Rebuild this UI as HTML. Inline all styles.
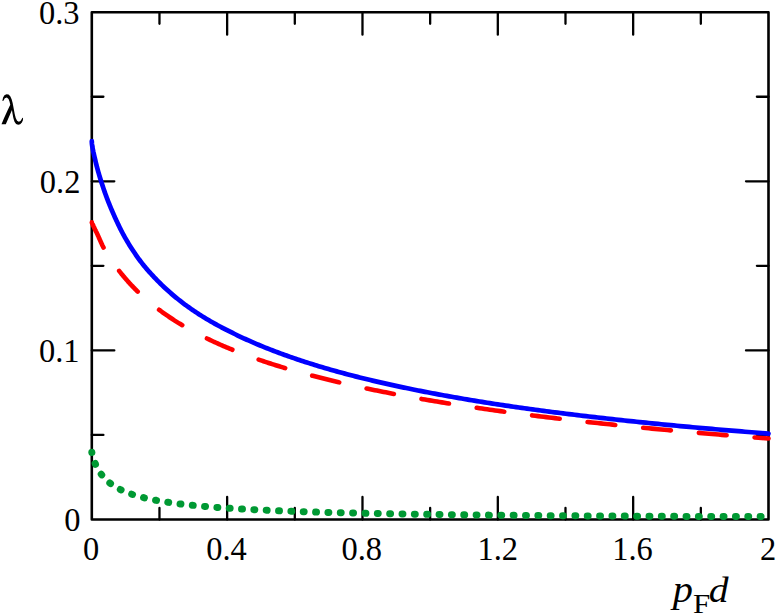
<!DOCTYPE html>
<html><head><meta charset="utf-8"><title>chart</title>
<style>
html,body{margin:0;padding:0;background:#fff;}
body{width:777px;height:614px;overflow:hidden;}
svg{display:block;}
text{font-family:"Liberation Serif",serif;fill:#000;}
</style></head>
<body>
<svg width="777" height="614" viewBox="0 0 777 614">
<rect x="0" y="0" width="777" height="614" fill="#ffffff"/>
<g stroke="#000" stroke-width="2.3" stroke-linecap="round" fill="none">
<line x1="159.47" y1="519.5" x2="159.47" y2="507.90"/>
<line x1="159.47" y1="12.2" x2="159.47" y2="23.80"/>
<line x1="227.14" y1="519.5" x2="227.14" y2="497.00"/>
<line x1="227.14" y1="12.2" x2="227.14" y2="34.70"/>
<line x1="294.81" y1="519.5" x2="294.81" y2="507.90"/>
<line x1="294.81" y1="12.2" x2="294.81" y2="23.80"/>
<line x1="362.48" y1="519.5" x2="362.48" y2="497.00"/>
<line x1="362.48" y1="12.2" x2="362.48" y2="34.70"/>
<line x1="430.15" y1="519.5" x2="430.15" y2="507.90"/>
<line x1="430.15" y1="12.2" x2="430.15" y2="23.80"/>
<line x1="497.82" y1="519.5" x2="497.82" y2="497.00"/>
<line x1="497.82" y1="12.2" x2="497.82" y2="34.70"/>
<line x1="565.49" y1="519.5" x2="565.49" y2="507.90"/>
<line x1="565.49" y1="12.2" x2="565.49" y2="23.80"/>
<line x1="633.16" y1="519.5" x2="633.16" y2="497.00"/>
<line x1="633.16" y1="12.2" x2="633.16" y2="34.70"/>
<line x1="700.83" y1="519.5" x2="700.83" y2="507.90"/>
<line x1="700.83" y1="12.2" x2="700.83" y2="23.80"/>
<line x1="91.8" y1="434.95" x2="103.40" y2="434.95"/>
<line x1="768.5" y1="434.95" x2="756.90" y2="434.95"/>
<line x1="91.8" y1="350.40" x2="114.30" y2="350.40"/>
<line x1="768.5" y1="350.40" x2="746.00" y2="350.40"/>
<line x1="91.8" y1="265.85" x2="103.40" y2="265.85"/>
<line x1="768.5" y1="265.85" x2="756.90" y2="265.85"/>
<line x1="91.8" y1="181.30" x2="114.30" y2="181.30"/>
<line x1="768.5" y1="181.30" x2="746.00" y2="181.30"/>
<line x1="91.8" y1="96.75" x2="103.40" y2="96.75"/>
<line x1="768.5" y1="96.75" x2="756.90" y2="96.75"/>
</g>
<rect x="91.8" y="12.2" width="676.70" height="507.30" fill="none" stroke="#000" stroke-width="2.6" stroke-linejoin="round"/>
<g font-size="34.2">
<text transform="translate(91.10,559.9) scale(0.95,1)" text-anchor="middle">0</text>
<text transform="translate(226.44,559.9) scale(0.95,1)" text-anchor="middle">0.4</text>
<text transform="translate(361.78,559.9) scale(0.95,1)" text-anchor="middle">0.8</text>
<text transform="translate(497.72,559.9) scale(0.95,1)" text-anchor="middle">1.2</text>
<text transform="translate(632.46,559.9) scale(0.95,1)" text-anchor="middle">1.6</text>
<text transform="translate(768.20,559.9) scale(0.95,1)" text-anchor="middle">2</text>
<text transform="translate(80.4,530.80) scale(0.95,1)" text-anchor="end">0</text>
<text transform="translate(79.6,361.70) scale(0.95,1)" text-anchor="end">0.1</text>
<text transform="translate(80.4,192.60) scale(0.95,1)" text-anchor="end">0.2</text>
<text transform="translate(79.6,23.50) scale(0.95,1)" text-anchor="end">0.3</text>
</g>
<path d="M2.39,100.86 L3.08,97.58 L4.45,95.18 L6.50,94.16 L8.55,94.50 L10.26,96.21 L11.63,99.29 L12.65,103.05 L13.68,108.52 L14.71,113.99 L15.73,118.10 L17.10,120.69 L18.81,121.65 L20.52,120.97 L21.75,119.12 L22.44,117.75 L23.05,117.96 L22.91,120.15 L21.89,122.54 L20.18,124.25 L18.13,124.80 L16.07,123.91 L14.50,121.65 L13.34,118.10 L12.45,113.31 L11.97,109.89 L5.81,124.25 L1.50,124.25 L4.10,118.10 L7.52,110.57 L10.26,104.76 L9.58,101.68 L8.55,98.94 L6.84,97.58 L4.79,98.26 L3.42,100.65 L2.87,101.00Z" fill="#000" stroke="none"/>
<text transform="translate(672.7,601.6) scale(1.077,1)" font-size="37.5" font-style="italic">p</text>
<text transform="translate(692.9,612.5) scale(1.108,1)" font-size="28">F</text>
<text transform="translate(708.8,601.5) scale(1.118,1)" font-size="35.4" font-style="italic">d</text>
<g fill="none" stroke-linecap="round" stroke-linejoin="round">
<path d="M91.80,222.38 L91.80,222.41 L91.82,222.47 L91.84,222.53 L91.87,222.62 L91.91,222.72 L91.95,222.85 L92.01,222.98 L92.07,223.14 L92.14,223.30 L92.23,223.49 L92.31,223.69 L92.41,223.91 L92.52,224.14 L92.63,224.39 L92.76,224.65 L92.89,224.93 L93.03,225.23 L93.18,225.54 L93.33,225.87 L93.50,226.22 L93.67,226.58 L93.86,226.96 L94.05,227.36 L94.25,227.78 L94.46,228.22 L94.67,228.67 L94.90,229.15 L95.13,229.63 L95.37,230.13 L95.63,230.64 L95.88,231.17 L96.15,231.71 L96.43,232.27 L96.71,232.85 L97.01,233.46 L97.31,234.08 L97.62,234.73 L97.94,235.42 L98.27,236.15 L98.60,236.91 L98.95,237.69 L99.30,238.50 L99.66,239.33 L100.03,240.17 L100.41,241.01 L100.79,241.85 L101.19,242.73 L101.59,243.63 L102.01,244.53 L102.43,245.44 L102.86,246.32 L103.29,247.17 L103.74,247.97 L104.19,248.76 L104.66,249.57 L105.13,250.37 L105.61,251.18 L106.10,252.00 L106.60,252.81 L107.10,253.63 L107.62,254.45 L108.14,255.26 L108.67,256.08 L109.21,256.89 L109.76,257.69 L110.32,258.52 L110.88,259.38 L111.45,260.24 L112.04,261.10 L112.63,261.96 L113.23,262.82 L113.84,263.69 L114.45,264.56 L115.08,265.43 L115.71,266.30 L116.35,267.18 L117.00,268.05 L117.66,268.93 L118.33,269.81 L119.00,270.68 L119.69,271.56 L120.38,272.44 L121.08,273.32 L121.79,274.20 L122.51,275.08 L123.24,275.96 L123.97,276.84 L124.72,277.71 L125.47,278.59 L126.23,279.47 L127.00,280.35 L127.78,281.22 L128.56,282.10 L129.36,282.97 L130.16,283.84 L130.97,284.71 L131.79,285.58 L132.62,286.45 L133.46,287.32 L134.31,288.18 L135.16,289.05 L136.02,289.91 L136.89,290.77 L137.77,291.63 L138.66,292.48 L139.56,293.34 L140.47,294.19 L141.38,295.04 L142.30,295.89 L143.23,296.73 L144.17,297.58 L145.12,298.42 L146.08,299.25 L147.04,300.09 L148.01,300.92 L149.00,301.75 L149.99,302.58 L150.99,303.41 L151.99,304.23 L153.01,305.05 L154.03,305.87 L155.07,306.68 L156.11,307.49 L157.16,308.30 L158.22,309.11 L159.28,309.91 L160.36,310.71 L161.44,311.50 L162.53,312.30 L163.64,313.09 L164.74,313.88 L165.86,314.66 L166.99,315.44 L168.12,316.22 L169.27,316.99 L170.42,317.77 L171.58,318.54 L172.75,319.30 L173.93,320.06 L175.11,320.82 L176.31,321.58 L177.51,322.33 L178.72,323.08 L179.94,323.83 L181.17,324.57 L182.41,325.31 L183.65,326.05 L184.91,326.78 L186.17,327.51 L187.44,328.24 L188.72,328.96 L190.01,329.69 L191.30,330.40 L192.61,331.12 L193.92,331.83 L195.24,332.54 L196.57,333.24 L197.91,333.94 L199.26,334.64 L200.62,335.34 L201.98,336.03 L203.35,336.72 L204.73,337.41 L206.12,338.09 L207.52,338.77 L208.93,339.44 L210.35,340.12 L211.77,340.79 L213.20,341.46 L214.64,342.12 L216.09,342.78 L217.55,343.44 L219.02,344.09 L220.49,344.75 L221.97,345.40 L223.47,346.04 L224.97,346.68 L226.48,347.32 L227.99,347.96 L229.52,348.59 L231.05,349.23 L232.60,349.85 L234.15,350.48 L235.71,351.10 L237.28,351.72 L238.85,352.34 L240.44,352.95 L242.03,353.56 L243.64,354.17 L245.25,354.78 L246.87,355.38 L248.49,355.98 L250.13,356.57 L251.78,357.17 L253.43,357.76 L255.09,358.35 L256.76,358.93 L258.44,359.52 L260.13,360.10 L261.82,360.68 L263.53,361.25 L265.24,361.82 L266.96,362.39 L268.69,362.96 L270.43,363.53 L272.18,364.09 L273.93,364.65 L275.70,365.20 L277.47,365.76 L279.25,366.31 L281.04,366.86 L282.84,367.41 L284.65,367.95 L286.46,368.49 L288.28,369.03 L290.12,369.57 L291.96,370.11 L293.81,370.64 L295.66,371.17 L297.53,371.70 L299.40,372.22 L301.29,372.74 L303.18,373.27 L305.08,373.78 L306.99,374.30 L308.90,374.81 L310.83,375.33 L312.76,375.83 L314.71,376.34 L316.66,376.85 L318.62,377.35 L320.58,377.85 L322.56,378.35 L324.55,378.84 L326.54,379.34 L328.54,379.83 L330.55,380.32 L332.57,380.81 L334.60,381.29 L336.63,381.78 L338.68,382.26 L340.73,382.74 L342.79,383.22 L344.86,383.69 L346.94,384.16 L349.03,384.64 L351.12,385.11 L353.23,385.57 L355.34,386.04 L357.46,386.50 L359.59,386.96 L361.73,387.42 L363.88,387.88 L366.03,388.34 L368.20,388.79 L370.37,389.24 L372.55,389.69 L374.74,390.14 L376.93,390.59 L379.14,391.03 L381.36,391.48 L383.58,391.92 L385.81,392.36 L388.05,392.79 L390.30,393.23 L392.56,393.66 L394.82,394.09 L397.10,394.53 L399.38,394.95 L401.67,395.38 L403.97,395.81 L406.28,396.23 L408.59,396.65 L410.92,397.07 L413.25,397.49 L415.59,397.91 L417.94,398.32 L420.30,398.73 L422.67,399.15 L425.05,399.56 L427.43,399.97 L429.82,400.37 L432.23,400.78 L434.64,401.18 L437.06,401.58 L439.48,401.98 L441.92,402.38 L444.36,402.78 L446.81,403.18 L449.28,403.57 L451.75,403.96 L454.22,404.35 L456.71,404.74 L459.20,405.13 L461.71,405.52 L464.22,405.90 L466.74,406.29 L469.27,406.67 L471.81,407.05 L474.35,407.43 L476.91,407.81 L479.47,408.18 L482.04,408.56 L484.62,408.93 L487.21,409.30 L489.81,409.67 L492.41,410.04 L495.03,410.41 L497.65,410.78 L500.28,411.14 L502.92,411.51 L505.57,411.87 L508.23,412.23 L510.89,412.59 L513.57,412.95 L516.25,413.30 L518.94,413.66 L521.64,414.01 L524.35,414.36 L527.06,414.71 L529.79,415.06 L532.52,415.41 L535.26,415.76 L538.01,416.10 L540.77,416.45 L543.54,416.79 L546.31,417.13 L549.10,417.47 L551.89,417.81 L554.69,418.15 L557.50,418.49 L560.32,418.82 L563.14,419.16 L565.98,419.49 L568.82,419.82 L571.68,420.15 L574.54,420.48 L577.41,420.81 L580.28,421.13 L583.17,421.46 L586.06,421.78 L588.97,422.10 L591.88,422.43 L594.80,422.75 L597.73,423.06 L600.67,423.38 L603.61,423.70 L606.56,424.01 L609.53,424.33 L612.50,424.64 L615.48,424.95 L618.47,425.26 L621.46,425.57 L624.47,425.88 L627.48,426.19 L630.50,426.49 L633.53,426.79 L636.57,427.10 L639.62,427.40 L642.68,427.70 L645.74,428.00 L648.82,428.30 L651.90,428.59 L654.99,428.89 L658.09,429.19 L661.19,429.48 L664.31,429.77 L667.43,430.06 L670.57,430.35 L673.71,430.64 L676.86,430.93 L680.02,431.22 L683.18,431.50 L686.36,431.79 L689.54,432.07 L692.73,432.35 L695.93,432.63 L699.14,432.91 L702.36,433.19 L705.59,433.47 L708.82,433.74 L712.06,434.02 L715.32,434.29 L718.58,434.57 L721.85,434.84 L725.12,435.11 L728.41,435.38 L731.70,435.65 L735.01,435.91 L738.32,436.18 L741.64,436.45 L744.96,436.71 L748.30,436.97 L751.65,437.23 L755.00,437.50 L758.36,437.75 L761.73,438.01 L765.11,438.27 L768.50,438.53" stroke="#ff0000" stroke-width="4.6" stroke-dasharray="27.8 28.1"/>
<path d="M91.80,141.09 L91.80,141.54 L91.82,142.01 L91.84,142.48 L91.87,142.96 L91.91,143.44 L91.95,143.94 L92.01,144.44 L92.07,144.95 L92.14,145.47 L92.23,146.00 L92.31,146.53 L92.41,147.09 L92.52,147.66 L92.63,148.25 L92.76,148.88 L92.89,149.54 L93.03,150.24 L93.18,150.97 L93.33,151.72 L93.50,152.48 L93.67,153.27 L93.86,154.07 L94.05,154.90 L94.25,155.76 L94.46,156.66 L94.67,157.59 L94.90,158.57 L95.13,159.59 L95.37,160.64 L95.63,161.69 L95.88,162.76 L96.15,163.85 L96.43,164.95 L96.71,166.05 L97.01,167.18 L97.31,168.31 L97.62,169.45 L97.94,170.61 L98.27,171.77 L98.60,172.95 L98.95,174.14 L99.30,175.33 L99.66,176.53 L100.03,177.75 L100.41,178.97 L100.79,180.21 L101.19,181.46 L101.59,182.72 L102.01,184.00 L102.43,185.28 L102.86,186.58 L103.29,187.89 L103.74,189.20 L104.19,190.53 L104.66,191.86 L105.13,193.20 L105.61,194.54 L106.10,195.89 L106.60,197.24 L107.10,198.59 L107.62,199.94 L108.14,201.29 L108.67,202.64 L109.21,203.99 L109.76,205.35 L110.32,206.71 L110.88,208.07 L111.45,209.44 L112.04,210.80 L112.63,212.17 L113.23,213.54 L113.84,214.92 L114.45,216.29 L115.08,217.67 L115.71,219.05 L116.35,220.43 L117.00,221.82 L117.66,223.23 L118.33,224.63 L119.00,226.05 L119.69,227.46 L120.38,228.86 L121.08,230.26 L121.79,231.65 L122.51,233.02 L123.24,234.37 L123.97,235.72 L124.72,237.05 L125.47,238.38 L126.23,239.70 L127.00,241.01 L127.78,242.31 L128.56,243.61 L129.36,244.90 L130.16,246.18 L130.97,247.46 L131.79,248.74 L132.62,250.01 L133.46,251.28 L134.31,252.55 L135.16,253.81 L136.02,255.06 L136.89,256.31 L137.77,257.55 L138.66,258.78 L139.56,260.00 L140.47,261.22 L141.38,262.42 L142.30,263.61 L143.23,264.80 L144.17,265.97 L145.12,267.12 L146.08,268.26 L147.04,269.37 L148.01,270.47 L149.00,271.56 L149.99,272.65 L150.99,273.74 L151.99,274.84 L153.01,275.94 L154.03,277.03 L155.07,278.12 L156.11,279.21 L157.16,280.29 L158.22,281.37 L159.28,282.44 L160.36,283.51 L161.44,284.57 L162.53,285.62 L163.64,286.68 L164.74,287.72 L165.86,288.76 L166.99,289.79 L168.12,290.82 L169.27,291.84 L170.42,292.85 L171.58,293.86 L172.75,294.86 L173.93,295.85 L175.11,296.84 L176.31,297.82 L177.51,298.79 L178.72,299.76 L179.94,300.72 L181.17,301.68 L182.41,302.63 L183.65,303.57 L184.91,304.51 L186.17,305.44 L187.44,306.36 L188.72,307.28 L190.01,308.19 L191.30,309.10 L192.61,310.00 L193.92,310.89 L195.24,311.78 L196.57,312.66 L197.91,313.53 L199.26,314.40 L200.62,315.26 L201.98,316.12 L203.35,316.97 L204.73,317.82 L206.12,318.66 L207.52,319.50 L208.93,320.33 L210.35,321.16 L211.77,321.98 L213.20,322.80 L214.64,323.61 L216.09,324.41 L217.55,325.21 L219.02,326.00 L220.49,326.79 L221.97,327.58 L223.47,328.36 L224.97,329.14 L226.48,329.91 L227.99,330.68 L229.52,331.45 L231.05,332.22 L232.60,332.98 L234.15,333.75 L235.71,334.51 L237.28,335.27 L238.85,336.02 L240.44,336.78 L242.03,337.52 L243.64,338.27 L245.25,339.00 L246.87,339.74 L248.49,340.47 L250.13,341.20 L251.78,341.92 L253.43,342.64 L255.09,343.35 L256.76,344.06 L258.44,344.77 L260.13,345.47 L261.82,346.17 L263.53,346.87 L265.24,347.56 L266.96,348.24 L268.69,348.93 L270.43,349.61 L272.18,350.29 L273.93,350.96 L275.70,351.63 L277.47,352.30 L279.25,352.96 L281.04,353.62 L282.84,354.28 L284.65,354.93 L286.46,355.58 L288.28,356.23 L290.12,356.87 L291.96,357.51 L293.81,358.15 L295.66,358.78 L297.53,359.41 L299.40,360.04 L301.29,360.67 L303.18,361.29 L305.08,361.91 L306.99,362.52 L308.90,363.13 L310.83,363.74 L312.76,364.35 L314.71,364.95 L316.66,365.55 L318.62,366.15 L320.58,366.74 L322.56,367.33 L324.55,367.91 L326.54,368.50 L328.54,369.08 L330.55,369.65 L332.57,370.23 L334.60,370.80 L336.63,371.37 L338.68,371.93 L340.73,372.50 L342.79,373.06 L344.86,373.61 L346.94,374.17 L349.03,374.72 L351.12,375.26 L353.23,375.81 L355.34,376.35 L357.46,376.89 L359.59,377.43 L361.73,377.96 L363.88,378.49 L366.03,379.02 L368.20,379.54 L370.37,380.07 L372.55,380.59 L374.74,381.10 L376.93,381.62 L379.14,382.13 L381.36,382.64 L383.58,383.15 L385.81,383.65 L388.05,384.15 L390.30,384.65 L392.56,385.15 L394.82,385.64 L397.10,386.13 L399.38,386.62 L401.67,387.11 L403.97,387.59 L406.28,388.07 L408.59,388.55 L410.92,389.03 L413.25,389.50 L415.59,389.98 L417.94,390.45 L420.30,390.92 L422.67,391.38 L425.05,391.84 L427.43,392.31 L429.82,392.76 L432.23,393.22 L434.64,393.68 L437.06,394.13 L439.48,394.58 L441.92,395.03 L444.36,395.47 L446.81,395.92 L449.28,396.36 L451.75,396.80 L454.22,397.23 L456.71,397.67 L459.20,398.10 L461.71,398.54 L464.22,398.97 L466.74,399.39 L469.27,399.82 L471.81,400.24 L474.35,400.66 L476.91,401.08 L479.47,401.50 L482.04,401.92 L484.62,402.33 L487.21,402.74 L489.81,403.15 L492.41,403.56 L495.03,403.97 L497.65,404.37 L500.28,404.78 L502.92,405.17 L505.57,405.56 L508.23,405.95 L510.89,406.34 L513.57,406.73 L516.25,407.11 L518.94,407.50 L521.64,407.88 L524.35,408.26 L527.06,408.64 L529.79,409.01 L532.52,409.39 L535.26,409.76 L538.01,410.13 L540.77,410.50 L543.54,410.86 L546.31,411.23 L549.10,411.59 L551.89,411.96 L554.69,412.32 L557.50,412.68 L560.32,413.03 L563.14,413.39 L565.98,413.74 L568.82,414.09 L571.68,414.44 L574.54,414.79 L577.41,415.14 L580.28,415.49 L583.17,415.83 L586.06,416.17 L588.97,416.51 L591.88,416.85 L594.80,417.19 L597.73,417.53 L600.67,417.86 L603.61,418.19 L606.56,418.53 L609.53,418.86 L612.50,419.19 L615.48,419.51 L618.47,419.84 L621.46,420.16 L624.47,420.48 L627.48,420.81 L630.50,421.13 L633.53,421.44 L636.57,421.76 L639.62,422.08 L642.68,422.39 L645.74,422.70 L648.82,423.01 L651.90,423.32 L654.99,423.63 L658.09,423.94 L661.19,424.24 L664.31,424.55 L667.43,424.85 L670.57,425.15 L673.71,425.45 L676.86,425.75 L680.02,426.05 L683.18,426.34 L686.36,426.64 L689.54,426.93 L692.73,427.22 L695.93,427.51 L699.14,427.80 L702.36,428.09 L705.59,428.38 L708.82,428.66 L712.06,428.95 L715.32,429.23 L718.58,429.51 L721.85,429.79 L725.12,430.07 L728.41,430.35 L731.70,430.63 L735.01,430.90 L738.32,431.18 L741.64,431.45 L744.96,431.72 L748.30,431.99 L751.65,432.26 L755.00,432.53 L758.36,432.80 L761.73,433.06 L765.11,433.33 L768.50,433.59" stroke="#0000ff" stroke-width="4.7"/>
<path d="M91.80,452.28 L91.80,452.40 L91.82,452.54 L91.84,452.71 L91.87,452.92 L91.91,453.15 L91.95,453.40 L92.01,453.68 L92.07,453.98 L92.14,454.31 L92.23,454.66 L92.31,455.03 L92.41,455.42 L92.52,455.82 L92.63,456.25 L92.76,456.69 L92.89,457.15 L93.03,457.62 L93.18,458.10 L93.33,458.60 L93.50,459.10 L93.67,459.62 L93.86,460.15 L94.05,460.68 L94.25,461.23 L94.46,461.78 L94.67,462.33 L94.90,462.89 L95.13,463.45 L95.37,464.02 L95.63,464.59 L95.88,465.16 L96.15,465.74 L96.43,466.31 L96.71,466.89 L97.01,467.46 L97.31,468.03 L97.62,468.60 L97.94,469.17 L98.27,469.74 L98.60,470.31 L98.95,470.87 L99.30,471.43 L99.66,471.99 L100.03,472.54 L100.41,473.09 L100.79,473.63 L101.19,474.17 L101.59,474.70 L102.01,475.23 L102.43,475.76 L102.86,476.28 L103.29,476.79 L103.74,477.30 L104.19,477.80 L104.66,478.30 L105.13,478.79 L105.61,479.28 L106.10,479.76 L106.60,480.23 L107.10,480.70 L107.62,481.17 L108.14,481.62 L108.67,482.08 L109.21,482.52 L109.76,482.96 L110.32,483.39 L110.88,483.82 L111.45,484.25 L112.04,484.66 L112.63,485.07 L113.23,485.48 L113.84,485.88 L114.45,486.27 L115.08,486.66 L115.71,487.05 L116.35,487.42 L117.00,487.80 L117.66,488.16 L118.33,488.53 L119.00,488.88 L119.69,489.24 L120.38,489.58 L121.08,489.93 L121.79,490.26 L122.51,490.60 L123.24,490.92 L123.97,491.25 L124.72,491.57 L125.47,491.88 L126.23,492.19 L127.00,492.49 L127.78,492.80 L128.56,493.09 L129.36,493.38 L130.16,493.67 L130.97,493.96 L131.79,494.24 L132.62,494.51 L133.46,494.79 L134.31,495.05 L135.16,495.32 L136.02,495.58 L136.89,495.84 L137.77,496.09 L138.66,496.34 L139.56,496.59 L140.47,496.83 L141.38,497.07 L142.30,497.31 L143.23,497.54 L144.17,497.77 L145.12,498.00 L146.08,498.22 L147.04,498.44 L148.01,498.66 L149.00,498.88 L149.99,499.09 L150.99,499.30 L151.99,499.51 L153.01,499.71 L154.03,499.91 L155.07,500.11 L156.11,500.31 L157.16,500.50 L158.22,500.69 L159.28,500.88 L160.36,501.07 L161.44,501.25 L162.53,501.43 L163.64,501.61 L164.74,501.79 L165.86,501.96 L166.99,502.13 L168.12,502.30 L169.27,502.47 L170.42,502.64 L171.58,502.80 L172.75,502.96 L173.93,503.12 L175.11,503.28 L176.31,503.44 L177.51,503.59 L178.72,503.74 L179.94,503.89 L181.17,504.04 L182.41,504.19 L183.65,504.33 L184.91,504.47 L186.17,504.62 L187.44,504.76 L188.72,504.89 L190.01,505.03 L191.30,505.16 L192.61,505.30 L193.92,505.43 L195.24,505.56 L196.57,505.69 L197.91,505.81 L199.26,505.94 L200.62,506.06 L201.98,506.19 L203.35,506.31 L204.73,506.43 L206.12,506.55 L207.52,506.66 L208.93,506.78 L210.35,506.89 L211.77,507.01 L213.20,507.12 L214.64,507.23 L216.09,507.34 L217.55,507.45 L219.02,507.55 L220.49,507.66 L221.97,507.76 L223.47,507.87 L224.97,507.97 L226.48,508.07 L227.99,508.17 L229.52,508.27 L231.05,508.37 L232.60,508.47 L234.15,508.56 L235.71,508.66 L237.28,508.75 L238.85,508.84 L240.44,508.93 L242.03,509.02 L243.64,509.11 L245.25,509.20 L246.87,509.29 L248.49,509.38 L250.13,509.46 L251.78,509.55 L253.43,509.63 L255.09,509.71 L256.76,509.80 L258.44,509.88 L260.13,509.96 L261.82,510.04 L263.53,510.12 L265.24,510.20 L266.96,510.27 L268.69,510.35 L270.43,510.42 L272.18,510.50 L273.93,510.57 L275.70,510.65 L277.47,510.72 L279.25,510.79 L281.04,510.86 L282.84,510.93 L284.65,511.00 L286.46,511.07 L288.28,511.14 L290.12,511.20 L291.96,511.27 L293.81,511.34 L295.66,511.40 L297.53,511.47 L299.40,511.53 L301.29,511.59 L303.18,511.66 L305.08,511.72 L306.99,511.78 L308.90,511.84 L310.83,511.90 L312.76,511.96 L314.71,512.02 L316.66,512.08 L318.62,512.13 L320.58,512.19 L322.56,512.25 L324.55,512.30 L326.54,512.36 L328.54,512.41 L330.55,512.47 L332.57,512.52 L334.60,512.57 L336.63,512.63 L338.68,512.68 L340.73,512.73 L342.79,512.78 L344.86,512.83 L346.94,512.88 L349.03,512.93 L351.12,512.98 L353.23,513.03 L355.34,513.07 L357.46,513.12 L359.59,513.17 L361.73,513.21 L363.88,513.26 L366.03,513.31 L368.20,513.35 L370.37,513.39 L372.55,513.44 L374.74,513.48 L376.93,513.53 L379.14,513.57 L381.36,513.61 L383.58,513.65 L385.81,513.69 L388.05,513.73 L390.30,513.78 L392.56,513.82 L394.82,513.86 L397.10,513.89 L399.38,513.93 L401.67,513.97 L403.97,514.01 L406.28,514.05 L408.59,514.09 L410.92,514.12 L413.25,514.16 L415.59,514.20 L417.94,514.23 L420.30,514.27 L422.67,514.30 L425.05,514.34 L427.43,514.37 L429.82,514.41 L432.23,514.44 L434.64,514.47 L437.06,514.51 L439.48,514.54 L441.92,514.57 L444.36,514.60 L446.81,514.63 L449.28,514.67 L451.75,514.70 L454.22,514.73 L456.71,514.76 L459.20,514.79 L461.71,514.82 L464.22,514.85 L466.74,514.88 L469.27,514.91 L471.81,514.93 L474.35,514.96 L476.91,514.99 L479.47,515.02 L482.04,515.04 L484.62,515.07 L487.21,515.10 L489.81,515.13 L492.41,515.15 L495.03,515.18 L497.65,515.20 L500.28,515.23 L502.92,515.25 L505.57,515.28 L508.23,515.30 L510.89,515.33 L513.57,515.35 L516.25,515.38 L518.94,515.40 L521.64,515.42 L524.35,515.45 L527.06,515.47 L529.79,515.49 L532.52,515.51 L535.26,515.54 L538.01,515.56 L540.77,515.58 L543.54,515.60 L546.31,515.62 L549.10,515.64 L551.89,515.66 L554.69,515.68 L557.50,515.70 L560.32,515.72 L563.14,515.74 L565.98,515.76 L568.82,515.78 L571.68,515.80 L574.54,515.82 L577.41,515.84 L580.28,515.86 L583.17,515.88 L586.06,515.90 L588.97,515.91 L591.88,515.93 L594.80,515.95 L597.73,515.97 L600.67,515.98 L603.61,516.00 L606.56,516.02 L609.53,516.03 L612.50,516.05 L615.48,516.06 L618.47,516.08 L621.46,516.10 L624.47,516.11 L627.48,516.13 L630.50,516.14 L633.53,516.16 L636.57,516.17 L639.62,516.19 L642.68,516.20 L645.74,516.22 L648.82,516.23 L651.90,516.24 L654.99,516.26 L658.09,516.27 L661.19,516.28 L664.31,516.30 L667.43,516.31 L670.57,516.32 L673.71,516.33 L676.86,516.35 L680.02,516.36 L683.18,516.37 L686.36,516.38 L689.54,516.40 L692.73,516.41 L695.93,516.42 L699.14,516.43 L702.36,516.44 L705.59,516.45 L708.82,516.46 L712.06,516.47 L715.32,516.48 L718.58,516.49 L721.85,516.50 L725.12,516.51 L728.41,516.52 L731.70,516.53 L735.01,516.54 L738.32,516.55 L741.64,516.56 L744.96,516.57 L748.30,516.58 L751.65,516.59 L755.00,516.60 L758.36,516.60 L761.73,516.61 L765.11,516.62 L768.50,516.63" stroke="#009933" stroke-width="7.0" stroke-dasharray="0.9 11.45" stroke-dashoffset="0.65"/>
</g>
</svg>
</body></html>
